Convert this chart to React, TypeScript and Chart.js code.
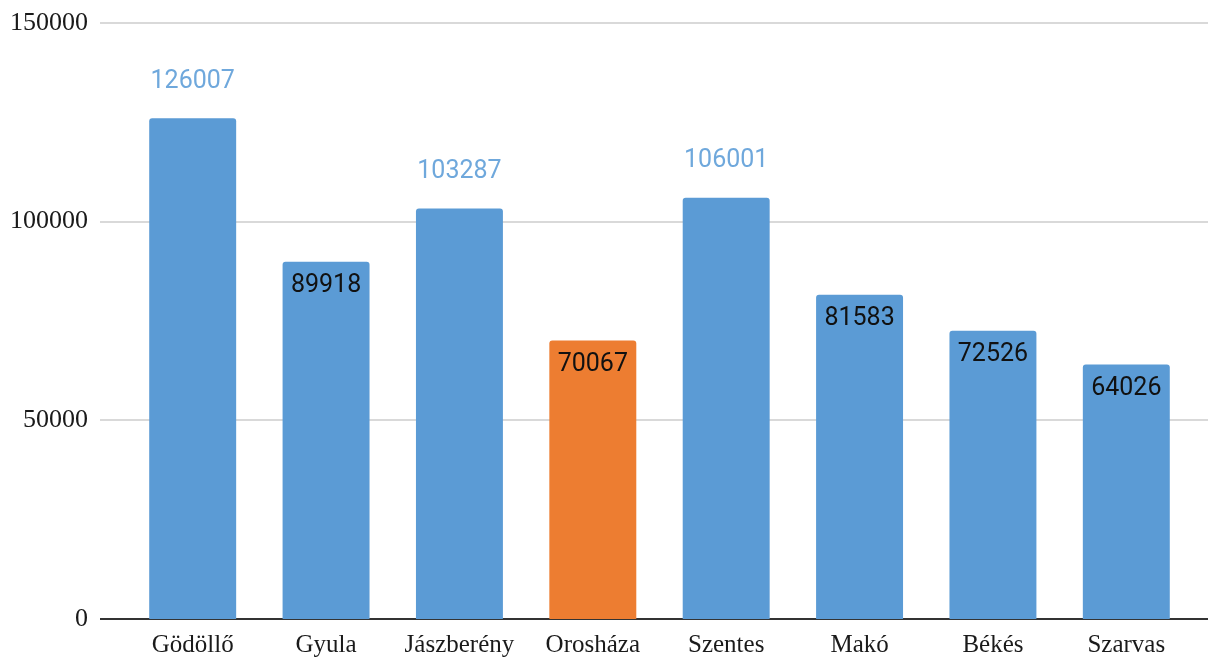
import React, { useEffect, useRef } from "react";
import { Chart, registerables } from "chart.js";

Chart.register(...registerables);

const categories = ["Gödöllő", "Gyula", "Jászberény", "Orosháza", "Szentes", "Makó", "Békés", "Szarvas"];
const values = [126007, 89918, 103287, 70067, 106001, 81583, 72526, 64026];
const barColors = ["#5b9bd5", "#5b9bd5", "#5b9bd5", "#ed7d31", "#5b9bd5", "#5b9bd5", "#5b9bd5", "#5b9bd5"];
const yTicks = [0, 50000, 100000, 150000];

const gridPlugin = {
  id: "customGrid",
  beforeDatasetsDraw(chart: any) {
    const { ctx } = chart;
    const y = chart.scales.y;
    ctx.save();
    yTicks.forEach((t) => {
      const py = Math.round(y.getPixelForValue(t));
      ctx.beginPath();
      ctx.lineWidth = t === 0 ? 2 : 1.5;
      ctx.strokeStyle = t === 0 ? "#333333" : "#cccccc";
      ctx.moveTo(100, py);
      ctx.lineTo(chart.width, py);
      ctx.stroke();
    });
    ctx.restore();
  },
};

const labelPlugin = {
  id: "valueLabels",
  afterDatasetsDraw(chart: any) {
    const { ctx } = chart;
    const meta = chart.getDatasetMeta(0);
    ctx.save();
    ctx.font = "25px Roboto";
    ctx.textAlign = "center";
    ctx.textBaseline = "middle";
    meta.data.forEach((bar: any, i: number) => {
      const v = values[i];
      const outside = v > 100000;
      ctx.fillStyle = outside ? "#6fa8dc" : "#111111";
      const ty = outside ? bar.y - 37 : bar.y + 24;
      ctx.fillText(String(v), bar.x, ty);
    });
    ctx.restore();
  },
};

export default function App() {
  const ref = useRef<HTMLCanvasElement | null>(null);
  useEffect(() => {
    document.body.style.margin = "0";
    const chart = new Chart(ref.current as HTMLCanvasElement, {
      type: "bar",
      data: {
        labels: categories,
        datasets: [
          {
            data: values,
            backgroundColor: barColors,
            categoryPercentage: 1,
            barPercentage: 0.652,
            borderRadius: { topLeft: 3, topRight: 3, bottomLeft: 0, bottomRight: 0 },
            borderSkipped: "bottom",
          },
        ],
      },
      options: {
        animation: false,
        responsive: false,
        maintainAspectRatio: false,
        layout: { padding: { top: 23, right: 15, left: 0, bottom: 0 } },
        plugins: { legend: { display: false }, tooltip: { enabled: false } },
        scales: {
          x: {
            grid: { display: false },
            border: { display: false },
            ticks: { font: { family: "Liberation Serif", size: 25 }, color: "#1a1a1a", padding: 3, maxRotation: 0 },
            afterFit(scale: any) {
              scale.height = 38;
              scale.paddingLeft = 0;
              scale.paddingRight = 0;
            },
          },
          y: {
            min: 0,
            max: 150000,
            grid: { display: false },
            border: { display: false },
            ticks: {
              stepSize: 50000,
              font: { family: "Liberation Serif", size: 26 },
              color: "#1a1a1a",
              padding: 30,
              callback: (v: any) => String(v),
            },
            afterFit(scale: any) {
              scale.width = 126;
              scale.paddingTop = 0;
              scale.paddingBottom = 0;
            },
          },
        },
      },
      plugins: [gridPlugin, labelPlugin],
    });
    return () => chart.destroy();
  }, []);
  return <canvas ref={ref} width={1208} height={657} style={{ display: "block" }} />;
}
